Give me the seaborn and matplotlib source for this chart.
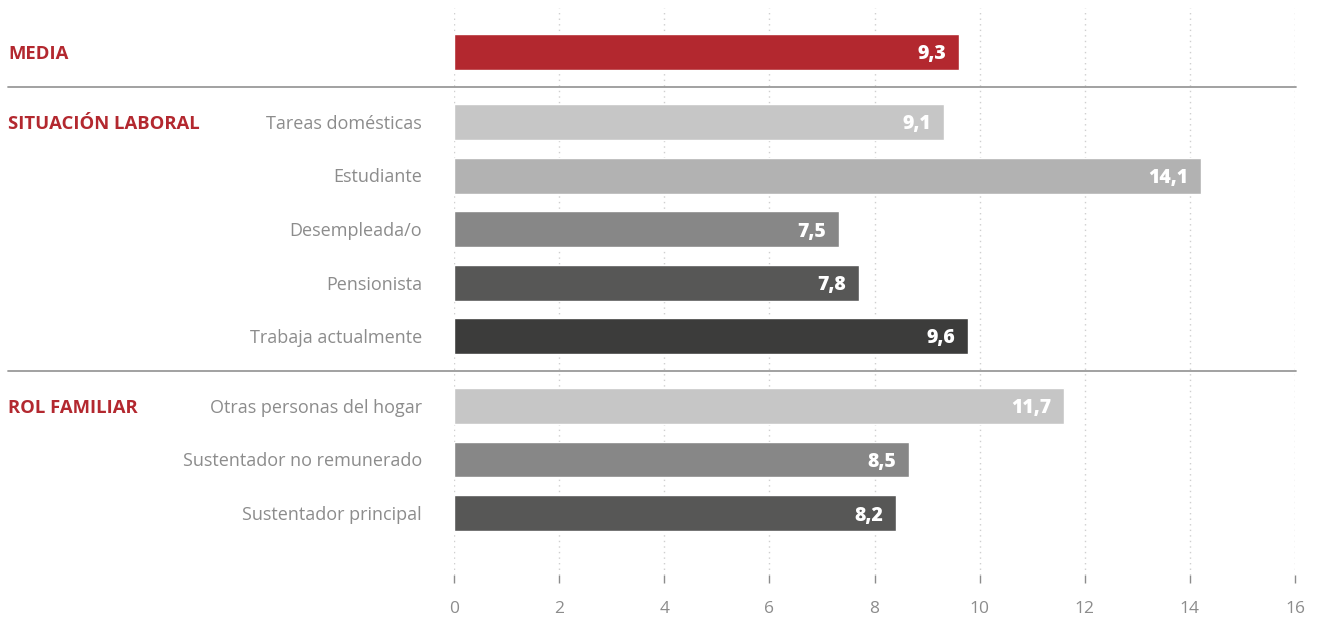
import matplotlib
matplotlib.use("Agg")
import matplotlib.pyplot as plt
import matplotlib.transforms as mtransforms
import seaborn as sns
import pandas as pd
import numpy as np

# ---- data ----
groups = ["MEDIA", "SITUACIÓN LABORAL", "ROL FAMILIAR"]
group_sizes = [1, 5, 3]
categories = ["Media", "Tareas domésticas", "Estudiante", "Desempleada/o", "Pensionista",
              "Trabaja actualmente", "Otras personas del hogar",
              "Sustentador no remunerado", "Sustentador principal"]
bar_lengths = [9.6, 9.32, 14.21, 7.32, 7.70, 9.77, 11.60, 8.65, 8.40]
value_labels = ["9,3", "9,1", "14,1", "7,5", "7,8", "9,6", "11,7", "8,5", "8,2"]
colors = ["#B3282F", "#C6C6C6", "#B2B2B2", "#878787", "#575756",
          "#3C3C3B", "#C6C6C6", "#878787", "#575756"]
xticks = [0, 2, 4, 6, 8, 10, 12, 14, 16]

# ---- layout positions (row units) ----
gap = 70 / 53.5
pos = []
y = 0.0
group_first = []
seps = []
for gi, n in enumerate(group_sizes):
    if gi > 0:
        prev = y - 1
        y = prev + gap
        seps.append(prev + gap / 2)
    group_first.append(y)
    for k in range(n):
        pos.append(y)
        y += 1

df = pd.DataFrame({"cat": categories, "val": bar_lengths, "pos": pos})

sns.set_theme(style="white")
plt.rcParams["font.family"] = ["Open Sans", "DejaVu Sans"]

fig = plt.figure(figsize=(13.17, 6.17), dpi=100)
W, H = 1317, 617
x0, x1 = 454, 1295
top_px, bot_px = 8, 575
ax = fig.add_axes([x0 / W, 1 - bot_px / H, (x1 - x0) / W, (bot_px - top_px) / H])

sns.barplot(data=df, x="val", y="pos", hue="cat", palette=dict(zip(categories, colors)),
            orient="h", native_scale=True, width=36 / 53.5, legend=False, ax=ax,
            saturation=1, zorder=3)

ax.set_xlim(0, 16)
ax.set_ylim((bot_px - 52) / 53.5, (top_px - 52) / 53.5)
ax.set_xticks(xticks)
ax.set_xticklabels([str(t) for t in xticks])
ax.set_yticks([])
ax.set_xlabel("")
ax.set_ylabel("")
for s in ax.spines.values():
    s.set_visible(False)
ax.grid(axis="x", color="#cfcfcf", linestyle=(0, (1, 3)), linewidth=1, zorder=0)
ax.tick_params(axis="x", colors="#8c8c8c", length=6, width=1, direction="out",
               labelsize=12.5, pad=13, bottom=True)
for lab in ax.get_xticklabels():
    lab.set_color("#8c8c8c")

# value labels inside bars
for p, v, t in zip(pos, bar_lengths, value_labels):
    ax.text(v - 0.24, p, t, ha="right", va="center_baseline", color="white",
            fontsize=14, fontweight="heavy", zorder=5)

# category labels
trans_cat = mtransforms.blended_transform_factory(fig.transFigure, ax.transData)
for p, c in zip(pos[1:], categories[1:]):
    ax.text(422 / W, p, c, transform=trans_cat, ha="right", va="center_baseline",
            color="#8c8c8c", fontsize=13)

# group labels
for g, p in zip(groups, group_first):
    ax.text(8 / W, p, g, transform=trans_cat, ha="left", va="center_baseline",
            color="#B3282F", fontsize=13.3, fontweight="bold")

# separators
for s in seps:
    ax.plot([8 / W, 1296 / W], [s, s], transform=trans_cat, color="#9a9a9a",
            linewidth=1.3, clip_on=False, zorder=4)

fig.savefig("out.png", dpi=100)
